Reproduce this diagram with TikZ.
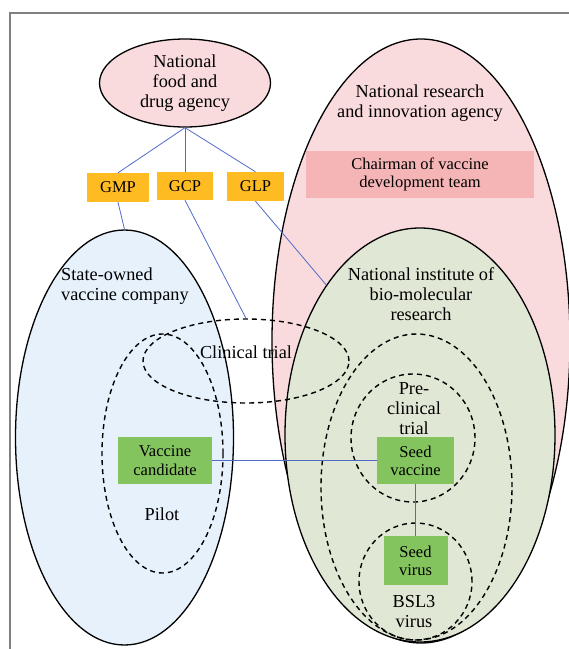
\documentclass[tikz,border=0pt]{standalone}
\usepackage{fontspec}
\setmainfont{Liberation Serif}
\usetikzlibrary{shapes.geometric}
\definecolor{agencypink}{HTML}{FADBDD}
\definecolor{chairpink}{HTML}{F5B5B7}
\definecolor{companyblue}{HTML}{E6F1FB}
\definecolor{institutegreen}{HTML}{E0E7D4}
\definecolor{boxgreen}{HTML}{84C45F}
\definecolor{gxpamber}{HTML}{FFBB22}
\definecolor{linkblue}{HTML}{4F6BC6}

\begin{document}
\begin{tikzpicture}[x=1pt, y=-1pt, every node/.style={font=\rmfamily}]
    \tikzstyle{org}=[
        ellipse,
        draw = black,
        line width = 1.3pt,
        inner sep = 0pt
    ]
    \tikzstyle{stage}=[
        ellipse,
        draw = black,
        line width = 1.4pt,
        dash pattern = on 5pt off 4pt,
        inner sep = 0pt
    ]
    \tikzstyle{orgtext}=[
        font = \rmfamily\fontsize{18.3}{20}\selectfont,
        align = center,
        inner sep = 0pt
    ]
    \tikzstyle{gxp}=[
        fill = gxpamber,
        inner sep = 0pt,
        font = \rmfamily\fontsize{16.5}{18.3}\selectfont
    ]
    \tikzstyle{product}=[
        fill = boxgreen,
        inner sep = 0pt,
        align = center,
        font = \rmfamily\fontsize{16.5}{18.3}\selectfont
    ]
    \tikzstyle{conn}=[
        -,
        draw = linkblue,
        line width = 0.8pt
    ]

    \useasboundingbox (0, 0) rectangle (569, 649);
    \draw[gray, line width = 1.5pt] (10, 649) -- (10, 13) -- (569, 13);

	\node[org, fill=agencypink, minimum width=298pt, minimum height=604pt] (nria) at (421, 341) {};
	\node[org, fill=institutegreen, minimum width=270pt, minimum height=414pt] (nibr) at (420, 435) {};
	\node[org, fill=companyblue, minimum width=218pt, minimum height=415pt] (state) at (124.5, 437.5) {};
	\node[org, fill=agencypink, minimum width=171pt, minimum height=88pt] (fda) at (185, 83) {};
	\node[fill=chairpink, minimum width=228pt, minimum height=47pt, align=center, inner sep=0pt, font=\rmfamily\fontsize{16.5}{18.3}\selectfont] (chair) at (420, 174.5) {Chairman of vaccine\\development team};

	\node[stage, minimum width=206pt, minimum height=84pt]  (clinical) at (246, 361) {};
	\node[stage, minimum width=121pt, minimum height=239pt] (pilot)    at (162.5, 453.5) {};
	\node[stage, minimum width=191pt, minimum height=306pt] (lab)      at (416.5, 487) {};
	\node[stage, minimum width=124pt, minimum height=128pt] (preclin)  at (413, 438) {};
	\node[stage, minimum width=113pt, minimum height=117pt] (bsl)      at (415.5, 581.5) {};

	\node[orgtext] (fdatext)   at (185, 83)  {National\\food and\\drug agency};
	\node[orgtext] (nriatext)  at (420, 103) {National research\\and innovation agency};
	\node[orgtext, anchor=west, align=left] (statetext) at (61, 286) {State-owned\\vaccine company};
	\node[orgtext] (nibrtext)  at (421, 294) {National institute of\\bio-molecular\\research};
	\node[orgtext] (clintext)  at (246, 352) {Clinical trial};
	\node[orgtext] (pretext)   at (414, 409) {Pre-\\clinical\\trial};
	\node[orgtext] (pilottext) at (162, 514) {Pilot};
	\node[orgtext] (bsltext)   at (414, 612) {BSL3\\virus};

	\node[gxp, minimum width=62pt, minimum height=29pt] (gmp) at (118, 187.5) {GMP};
	\node[gxp, minimum width=56pt, minimum height=28pt] (gcp) at (185, 186)   {GCP};
	\node[gxp, minimum width=57pt, minimum height=29pt] (glp) at (255.5, 186.5) {GLP};

	\node[product, minimum width=94pt, minimum height=47pt] (candidate) at (165, 460.5)   {Vaccine\\candidate};
	\node[product, minimum width=77pt, minimum height=47pt] (seedvac)   at (415.5, 460.5) {Seed\\vaccine};
	\node[product, minimum width=64pt, minimum height=49pt] (seedvir)   at (415.5, 560.5) {Seed\\virus};

	\path[conn] (fda.south) edge (gmp.north);
	\path[conn] (fda.south) edge (gcp.north);
	\path[conn] (fda.south) edge (glp.north);
	\path[conn] (gmp.south) edge (state.north);
	\path[conn] (gcp.south) edge (clinical.north);
	\path[conn] (glp.south) edge (nibr.122);
	\path[conn] (candidate.east) edge (seedvac.west);
	\path[conn] (seedvac.south) edge (seedvir.north);

\end{tikzpicture}
\end{document}
